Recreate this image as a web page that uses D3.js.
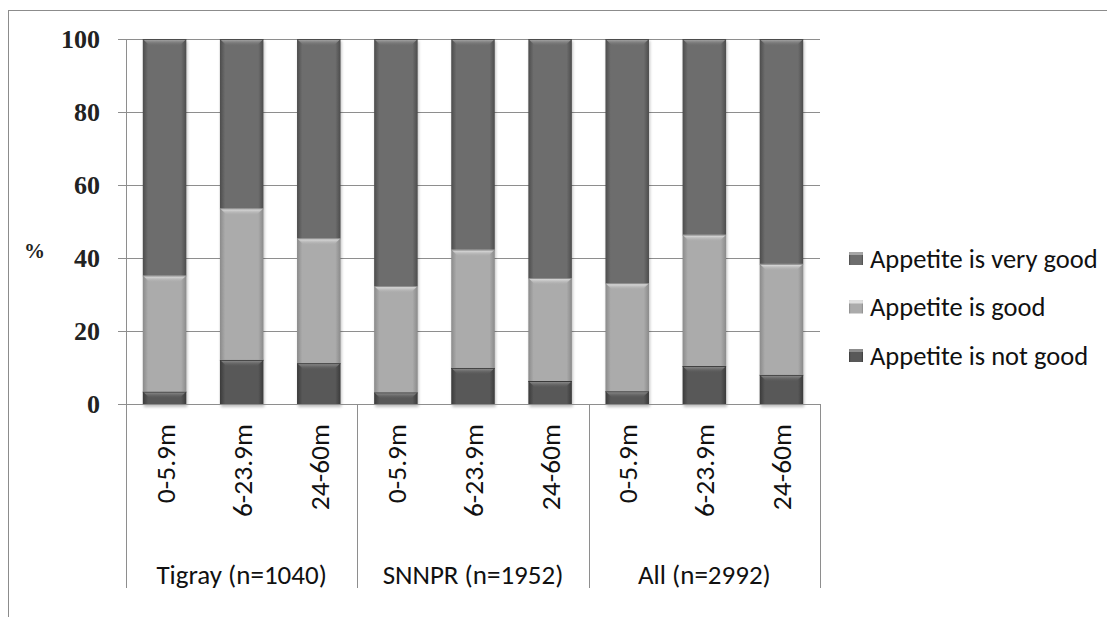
<!DOCTYPE html>
<html>
<head>
<meta charset="utf-8">
<script src="https://cdn.jsdelivr.net/npm/d3@7"></script>
<style>
  html, body { margin: 0; padding: 0; background: #fff; }
  svg { display: block; }
</style>
</head>
<body>
<svg id="chart" width="1107" height="617"></svg>
<script>
// Regions and age groups on the two-level category axis
const groups = ["Tigray (n=1040)", "SNNPR (n=1952)", "All (n=2992)"];
const ages = ["0-5.9m", "6-23.9m", "24-60m"];

// Percentages per bar, in order Tigray x3, SNNPR x3, All x3
const notGood  = [3.4, 12.1, 11.2, 3.2, 9.9, 6.3, 3.5, 10.4, 8.0];
const good     = [31.8, 41.5, 34.2, 29.1, 32.4, 28.2, 29.6, 36.0, 30.4];
const veryGood = [64.8, 46.4, 54.6, 67.7, 57.7, 65.5, 66.9, 53.6, 61.6];

const yTicks = [0, 20, 40, 60, 80, 100];
const seriesNames = ["Appetite is not good", "Appetite is good", "Appetite is very good"];

const uiFont = "Carlito, Lato, 'Open Sans', sans-serif";
const numFont = "'Liberation Serif', 'DejaVu Serif', serif";
const inkColor = "#111";

const svg = d3.select("#chart");
const plotLeft = 126, plotRight = 820, plotTop = 39, plotBottom = 404;

// rows for stacking
const rows = [];
groups.forEach((g, gi) => ages.forEach((a, ai) => {
  const i = gi * 3 + ai;
  rows.push({ key: g + "|" + a, group: g, age: a, notGood: notGood[i], good: good[i], veryGood: veryGood[i] });
}));

const keys = ["notGood", "good", "veryGood"];
const stacked = d3.stack().keys(keys)(rows);

const x = d3.scaleBand().domain(rows.map(d => d.key)).range([plotLeft, plotRight])
  .paddingInner(0.436).paddingOuter(0.218);
const y = d3.scaleLinear().domain([0, 100]).range([plotBottom, plotTop]);

const palette = {
  notGood:  { mid: "#585858", edge: "#3a3a3a", hi: "#9a9a9a" },
  good:     { mid: "#ababab", edge: "#8a8a8a", hi: "#eeeeee" },
  veryGood: { mid: "#6d6d6d", edge: "#4c4c4c", hi: "#b4b4b4" }
};

const defs = svg.append("defs");
keys.forEach(k => {
  const p = palette[k];
  const gh = defs.append("linearGradient").attr("id", "side-" + k)
    .attr("x1", 0).attr("x2", 1).attr("y1", 0).attr("y2", 0);
  gh.append("stop").attr("offset", "0%").attr("stop-color", p.edge);
  gh.append("stop").attr("offset", "12%").attr("stop-color", p.mid);
  gh.append("stop").attr("offset", "88%").attr("stop-color", p.mid);
  gh.append("stop").attr("offset", "100%").attr("stop-color", p.edge);
  const gv = defs.append("linearGradient").attr("id", "bevel-" + k)
    .attr("x1", 0).attr("x2", 0).attr("y1", 0).attr("y2", 1);
  gv.append("stop").attr("offset", "0%").attr("stop-color", p.hi);
  gv.append("stop").attr("offset", "100%").attr("stop-color", p.mid).attr("stop-opacity", 0);
});
defs.append("filter").attr("id", "shadow").attr("x", "-20%").attr("y", "-20%")
  .attr("width", "140%").attr("height", "140%")
  .append("feGaussianBlur").attr("stdDeviation", 1.6);

// outer frame
svg.append("rect").attr("x", 8.5).attr("y", 10.5).attr("width", 1110).attr("height", 640)
  .attr("fill", "none").attr("stroke", "#8c8c8c").attr("stroke-width", 1);

// gridlines
svg.append("g")
  .attr("transform", `translate(${plotLeft},0)`)
  .call(d3.axisLeft(y).tickValues(yTicks.slice(1)).tickSize(-(plotRight - plotLeft)).tickFormat(""))
  .call(g => g.select(".domain").remove())
  .call(g => g.selectAll("line").attr("stroke", "#8e8e8e").attr("stroke-width", 1));

// bar shadows
const bw = x.bandwidth();
svg.append("g").selectAll("rect").data(rows).join("rect")
  .attr("x", d => x(d.key) + 1).attr("y", y(100) + 2)
  .attr("width", bw).attr("height", y(0) - y(100) + 1)
  .attr("fill", "#000").attr("opacity", 0.25).attr("filter", "url(#shadow)");

// stacked segments
const segG = svg.append("g");
stacked.forEach(layer => {
  const k = layer.key;
  const lg = segG.append("g");
  lg.selectAll("rect.seg").data(layer).join("rect").attr("class", "seg")
    .attr("x", d => x(d.data.key)).attr("y", d => y(d[1]))
    .attr("width", bw).attr("height", d => y(d[0]) - y(d[1]))
    .attr("fill", `url(#side-${k})`);
  // top bevel highlight
  lg.selectAll("path.bev").data(layer).join("path").attr("class", "bev")
    .attr("d", d => {
      const x0 = x(d.data.key), y0 = y(d[1]);
      const h = Math.min(7, y(d[0]) - y(d[1]));
      return `M${x0},${y0}L${x0 + bw},${y0}L${x0 + bw - h},${y0 + h}L${x0 + h},${y0 + h}Z`;
    })
    .attr("fill", `url(#bevel-${k})`);
  // thin dark boundary on segment top
  lg.selectAll("line.edge").data(layer).join("line").attr("class", "edge")
    .attr("x1", d => x(d.data.key)).attr("x2", d => x(d.data.key) + bw)
    .attr("y1", d => y(d[1]) + 0.5).attr("y2", d => y(d[1]) + 0.5)
    .attr("stroke", palette[k].edge).attr("stroke-width", 1);
});

// y axis
const yAxis = svg.append("g").attr("transform", `translate(${plotLeft},0)`)
  .call(d3.axisLeft(y).tickValues(yTicks).tickSize(8).tickPadding(18).tickFormat(d3.format("d")));
yAxis.select(".domain").attr("stroke", "#8e8e8e").attr("d", `M-8,${plotTop + 0.5}H0.5V${plotBottom + 0.5}H-8`);
yAxis.selectAll(".tick line").attr("stroke", "#8e8e8e");
yAxis.selectAll(".tick text").attr("font-family", numFont).attr("font-weight", "bold")
  .attr("font-size", 26).attr("fill", "#222");

svg.append("text").attr("x", 24).attr("y", 256).attr("dy", "0.1em")
  .attr("font-family", numFont).attr("font-weight", "bold").attr("font-size", 21)
  .attr("fill", "#222").text("%");

// category axis (two levels)
const catG = svg.append("g");
catG.append("line").attr("x1", plotLeft).attr("x2", plotRight)
  .attr("y1", plotBottom + 0.5).attr("y2", plotBottom + 0.5)
  .attr("stroke", "#8e8e8e");
const groupStep = x.step() * 3;
d3.range(groups.length + 1).forEach(i => {
  const gx = Math.round(plotLeft + i * groupStep) + 0.5;
  catG.append("line").attr("x1", gx).attr("x2", gx).attr("y1", plotBottom).attr("y2", 588)
    .attr("stroke", "#8e8e8e");
});
catG.selectAll("text.age").data(rows).join("text").attr("class", "age")
  .attr("transform", d => `translate(${x(d.key) + bw / 2 + 10},424) rotate(-90)`)
  .attr("text-anchor", "end")
  .attr("font-family", uiFont).attr("font-size", 27.5).attr("fill", inkColor)
  .text(d => d.age);
catG.selectAll("text.grp").data(groups).join("text").attr("class", "grp")
  .attr("x", (d, i) => plotLeft + (i + 0.5) * groupStep).attr("y", 584)
  .attr("text-anchor", "middle")
  .attr("font-family", uiFont).attr("font-size", 27).attr("fill", inkColor)
  .text(d => d);

// legend, top entry is the top segment
const legend = svg.append("g");
const legendItems = keys.slice().reverse();
legendItems.forEach((k, i) => {
  const ly = 258 + i * 48.5;
  const p = palette[k];
  legend.append("rect").attr("x", 849).attr("y", ly - 6).attr("width", 14).attr("height", 13)
    .attr("fill", `url(#side-${k})`);
  legend.append("rect").attr("x", 849).attr("y", ly - 6).attr("width", 14).attr("height", 3)
    .attr("fill", p.hi).attr("opacity", 0.8);
  legend.append("text").attr("x", 870).attr("y", ly).attr("dy", "0.36em")
    .attr("font-family", uiFont).attr("font-size", 26.5).attr("fill", inkColor)
    .text(seriesNames[keys.indexOf(k)]);
});
</script>
</body>
</html>
